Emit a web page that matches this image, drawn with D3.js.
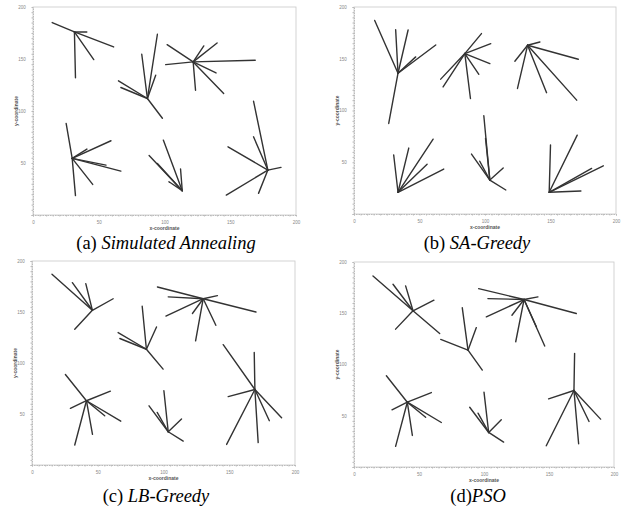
<!DOCTYPE html>
<html>
<head>
<meta charset="utf-8">
<script src="https://cdn.jsdelivr.net/npm/d3@7"></script>
<style>
  body { margin: 0; background: #fff; }
  svg { display: block; }
  .cap { font-family: "Liberation Serif", "DejaVu Serif", serif; font-size: 18.5px; fill: #000; }
  .tick text { font-family: "Liberation Sans", Arial, sans-serif; font-size: 4.5px; fill: #888; }
</style>
</head>
<body>
<div id="chart"></div>
<script>
// cluster heads and member nodes for each algorithm
var clustersSA = [
  {head: [31.5, 176], members: [[14.6, 185], [61.3, 161.6], [46.2, 149.4], [32.3, 132], [40.9, 176]]},
  {head: [87, 112], members: [[94.6, 173.8], [82.7, 154.6], [93.3, 134.4], [65, 129], [66.8, 122.6], [98.4, 93]]},
  {head: [121.8, 147.2], members: [[102, 163.8], [100.9, 144.6], [169, 148.8], [140, 165.4], [129.9, 162.6], [139.2, 136.6], [145, 116.8], [123.6, 120]]},
  {head: [29.8, 54.4], members: [[25.2, 88], [59.3, 71.4], [41, 63.4], [66.8, 42.2], [55.5, 48], [45.4, 29.4], [32.3, 18.6]]},
  {head: [113.5, 23.4], members: [[99.1, 72], [88.3, 57.3], [94.6, 49.6], [112.2, 44.2], [103.4, 32]]},
  {head: [178.6, 43.2], members: [[167.7, 109.4], [167.7, 75.2], [148.3, 65.6], [188.6, 45.8], [147, 19.2], [171.5, 20.8]]}
];
var clustersSAGreedy = [
  {head: [33.6, 136], members: [[15.8, 187], [31.8, 178], [41.3, 177.8], [62.4, 163.3], [47.1, 151.8], [26.5, 87.5]]},
  {head: [84.6, 155], members: [[97.3, 174.3], [104.4, 164.6], [103.7, 145.3], [95.3, 135], [88.9, 111.6], [66.2, 130.3], [68, 122.8]]},
  {head: [132.5, 163], members: [[141.9, 166.2], [122.8, 147.6], [124.8, 121.3], [147, 117.2], [171.2, 149.5], [170, 110]]},
  {head: [33.6, 21], members: [[30.3, 57], [41.8, 63.7], [60.4, 72.3], [55.8, 48], [68.5, 43.4]]},
  {head: [103.7, 32.8], members: [[99.1, 94.9], [100.4, 73], [89.7, 57.9], [96, 51], [113.9, 44.4], [115.9, 23.2]]},
  {head: [149, 21], members: [[150, 66.6], [170.4, 76.2], [190.3, 46.6], [181.4, 44], [173.2, 22.2]]}
];
var clustersLB = [
  {head: [45.9, 151.7], members: [[15.2, 187], [30.7, 178.8], [40.9, 177.8], [61.7, 163], [32.5, 133]]},
  {head: [87, 113.5], members: [[83.8, 155.6], [94.7, 135.3], [65.5, 129.8], [66.8, 124], [99.7, 94]]},
  {head: [130.2, 163], members: [[95.4, 174.5], [103.6, 164.8], [141, 166], [170.3, 150], [101.8, 146], [122, 148.5], [139.8, 137], [124.4, 121.7]]},
  {head: [41.4, 63], members: [[25.4, 88.7], [59.6, 72.4], [29.2, 55.5], [67.5, 43], [55.3, 48.3], [46, 30], [32.5, 19.6]]},
  {head: [103.6, 32.6], members: [[100.3, 72.8], [89, 58], [95.2, 51.5], [113.7, 45], [115, 23.5]]},
  {head: [169.5, 74], members: [[145.4, 118], [169, 110.4], [149.2, 67], [189.8, 46.3], [180.5, 43.4], [172, 21.9], [148, 20.2]]}
];
var clustersPSO = [
  {head: [45.4, 152.4], members: [[14.6, 186.4], [30, 178.3], [39.7, 176.7], [61.5, 162.7], [32, 134.5], [65.9, 130.3]]},
  {head: [87.7, 114], members: [[83.3, 155.3], [94.1, 136], [66.7, 124.5], [98.7, 94.6]]},
  {head: [130.8, 163.4], members: [[95.9, 174], [103, 164.3], [141.5, 166], [171, 149.8], [101.8, 146.5], [121.5, 148], [140.3, 136.8], [124.4, 122.2], [146.7, 118]]},
  {head: [41, 63.2], members: [[24.9, 89], [59.5, 72.6], [29.2, 55.8], [67.2, 43.4], [55.1, 48.6], [44.9, 30.8], [32, 20.1]]},
  {head: [103.6, 33.7], members: [[100, 73], [89, 58.3], [95.4, 52.5], [113.3, 46], [115.1, 24.3]]},
  {head: [169.2, 74.6], members: [[169.7, 110.9], [149.7, 66.5], [189.7, 46.7], [180.8, 44.4], [172.8, 22.7], [147.9, 20.7]]}
];

var xTicks = [0, 50, 100, 150, 200];
var yTicks = [0, 50, 100, 150, 200];
var captionTags = ["(a) ", "(b) ", "(c) ", "(d)"];
var captionNames = ["Simulated Annealing", "SA-Greedy", "LB-Greedy", "PSO"];

var width = 621, height = 508;

var svg = d3.select("#chart").append("svg")
    .attr("width", width)
    .attr("height", height);

// plot boxes in page pixels: [left, right, top, bottom]
var panels = [
  {data: clustersSA,       box: [33, 296, 7, 215],   cap: [166, 249]},
  {data: clustersSAGreedy, box: [354, 616, 7, 214],  cap: [477, 249]},
  {data: clustersLB,       box: [32, 295, 261, 465], cap: [156, 502]},
  {data: clustersPSO,      box: [354, 614, 262, 467], cap: [478, 502]}
];

panels.forEach(function(p, i) {
  var b = p.box;
  var x = d3.scaleLinear().domain([0, 200]).range([b[0], b[1]]);
  var y = d3.scaleLinear().domain([0, 200]).range([b[3], b[2]]);
  var g = svg.append("g");

  // light frame
  g.append("rect")
    .attr("x", b[0]).attr("y", b[2])
    .attr("width", b[1] - b[0]).attr("height", b[3] - b[2])
    .attr("fill", "none")
    .attr("stroke", "#c8c8c8")
    .attr("stroke-width", 0.8);

  // minor ticks every 5 units, major labelled every 50
  var minor = d3.range(0, 201, 5);
  var xa = g.append("g")
    .attr("transform", "translate(0," + b[3] + ")")
    .call(d3.axisBottom(x).tickValues(minor).tickSize(1.5)
      .tickFormat(function(d) { return xTicks.indexOf(d) >= 0 ? d : ""; }));
  var ya = g.append("g")
    .attr("transform", "translate(" + b[0] + ",0)")
    .call(d3.axisLeft(y).tickValues(minor).tickSize(1.5)
      .tickFormat(function(d) { return (yTicks.indexOf(d) >= 0 && d > 0) ? d : ""; }));
  [xa, ya].forEach(function(a) {
    a.select(".domain").attr("stroke", "#bbb").attr("stroke-dasharray", "1.5,1");
    a.selectAll(".tick line").attr("stroke", "#bbb");
  });
  xa.selectAll(".tick text").attr("dy", "0.9em");
  ya.selectAll(".tick text").attr("dx", "-0.6em");

  g.append("text")
    .attr("x", (b[0] + b[1]) / 2)
    .attr("y", b[3] + 15)
    .attr("text-anchor", "middle")
    .attr("font-family", "Liberation Sans, Arial, sans-serif")
    .attr("font-size", 5)
    .attr("font-weight", "bold")
    .attr("fill", "#555")
    .text("x-coordinate");
  g.append("text")
    .attr("transform", "translate(" + (b[0] - 15) + "," + ((b[2] + b[3]) / 2) + ") rotate(-90)")
    .attr("text-anchor", "middle")
    .attr("font-family", "Liberation Sans, Arial, sans-serif")
    .attr("font-size", 5)
    .attr("font-weight", "bold")
    .attr("fill", "#555")
    .text("y-coordinate");

  // links from each cluster head to its members
  var links = [];
  p.data.forEach(function(c) {
    c.members.forEach(function(m) { links.push({s: c.head, t: m}); });
  });
  g.selectAll("line.link").data(links).enter().append("line")
    .attr("class", "link")
    .attr("x1", function(d) { return x(d.s[0]); })
    .attr("y1", function(d) { return y(d.s[1]); })
    .attr("x2", function(d) { return x(d.t[0]); })
    .attr("y2", function(d) { return y(d.t[1]); })
    .attr("stroke", "#333")
    .attr("stroke-width", 1.4)
    .attr("stroke-linecap", "round");

  var cap = svg.append("text")
    .attr("class", "cap")
    .attr("x", p.cap[0])
    .attr("y", p.cap[1])
    .attr("text-anchor", "middle");
  cap.append("tspan").text(captionTags[i]);
  cap.append("tspan").attr("font-style", "italic").text(captionNames[i]);
});
</script>
</body>
</html>
